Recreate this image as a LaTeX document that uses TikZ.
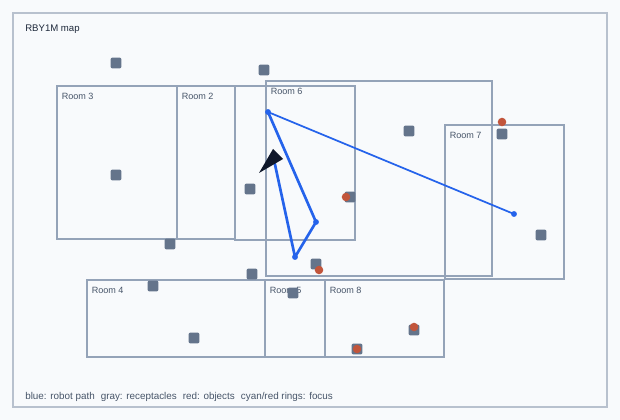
\documentclass[tikz,border=0pt]{standalone}
\usepackage{fontspec}
\setmainfont{Liberation Sans}

\definecolor{bgfill}{HTML}{F8FAFC}
\definecolor{frameline}{HTML}{B8C1CE}
\definecolor{roomline}{HTML}{94A3B8}
\definecolor{labelgray}{HTML}{475569}
\definecolor{titlegray}{HTML}{1E293B}
\definecolor{recepgray}{HTML}{64748B}
\definecolor{objred}{HTML}{C2553B}
\definecolor{pathblue}{HTML}{2563EB}
\definecolor{robotdark}{HTML}{0F172A}

\begin{document}
\begin{tikzpicture}[x=0.75pt,y=-0.75pt,
    room/.style={draw=roomline, line width=1.5pt},
    roomlabel/.style={anchor=base west, inner sep=0pt, text=labelgray, font=\fontsize{6.8}{8}\selectfont},
    recep/.style={fill=recepgray, rounded corners=1.5pt, minimum size=8.2pt, inner sep=0pt},
    obj/.style={circle, fill=objred, minimum size=6.4pt, inner sep=0pt},
    waypoint/.style={circle, fill=pathblue, minimum size=4.4pt, inner sep=0pt},
    paththick/.style={draw=pathblue, line width=2pt, line join=round},
    paththin/.style={draw=pathblue, line width=1.3pt},
]

% background and frame
\fill[bgfill] (0,0) rectangle (620,420);
\draw[frameline, line width=1.5pt] (13,13) rectangle (607,407);
\node[anchor=base west, inner sep=0pt, text=titlegray, font=\fontsize{7.2}{9}\selectfont] (title) at (25,31.5) {RBY1M map};

% rooms
\foreach \name/\xa/\ya/\xb/\yb/\lab in {
    room3/57/86/177/239/Room 3,
    room2/177/86/235/239/Room 2,
    hall/235/86/355/240/,
    room6/266/81/492/276/Room 6,
    room7/445/125/564/279/Room 7,
    room4/87/280/265/357/Room 4,
    room5/265/280/325/357/Room 5,
    room8/325/280/444/357/Room 8%
} {
    \draw[room] (\xa,\ya) rectangle (\xb,\yb);
    \node[roomlabel] (lab-\name) at (\xa+4.5,\ya+13.3) {\lab};
}

% receptacles
\foreach \x/\y [count=\i] in {
    116/63, 264/70, 116/175, 250/189, 170/244, 409/131, 502/134, 350/197,
    541/235, 316/264, 252/274, 153/286, 293/293, 194/338, 414/330, 357/349%
} {
    \node[recep] (rec\i) at (\x,\y) {};
}

% objects
\foreach \x/\y [count=\i] in {346/197, 502/122, 319/270, 414/327, 357/349} {
    \node[obj] (obj\i) at (\x,\y) {};
}

% robot path
\coordinate (robot) at (274,160);
\coordinate (p1) at (295,257);
\coordinate (p2) at (316,222);
\coordinate (p3) at (268,112);
\coordinate (p4) at (514,214);
\draw[paththick] (robot) -- (p1) -- (p2) -- (p3);
\draw[paththin] (p3) -- (p4);
\foreach \i in {1,...,4} {
    \node[waypoint] (wp\i) at (p\i) {};
}

% robot heading
\fill[robotdark] (273,149) -- (283,159) -- (259,173) -- cycle;

\node[anchor=base west, inner sep=0pt, text=labelgray, font=\fontsize{7.4}{9}\selectfont] (legend) at (25,399.5)
    {blue: robot path\hspace{2.5pt} gray: receptacles\hspace{2.5pt} red: objects\hspace{2.5pt} cyan/red rings: focus};

\end{tikzpicture}
\end{document}
